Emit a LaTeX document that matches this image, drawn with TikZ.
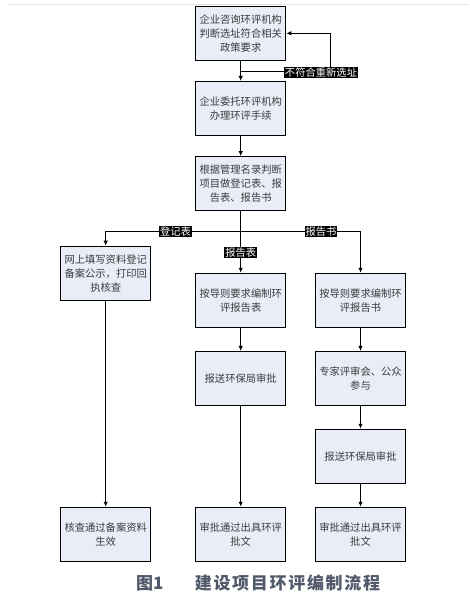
\documentclass[tikz,border=0pt]{standalone}
\usepackage{fontspec}
\setmainfont{Noto Sans CJK SC}
\usetikzlibrary{arrows.meta}
\definecolor{boxfill}{RGB}{232,237,247}
\definecolor{boxtext}{RGB}{60,60,60}
\definecolor{captext}{RGB}{80,88,105}
\tikzset{
  stepbox/.style={draw=black, line width=1.1pt, fill=boxfill, text=boxtext,
    minimum width=90pt, minimum height=54pt, inner sep=1pt, align=center,
    font=\fontsize{10.3}{14}\selectfont},
  tag/.style={fill=black, text=white, inner sep=1pt, font=\fontsize{10.3}{12}\selectfont},
  conn/.style={draw=black, line width=1.1pt},
  arr/.style={conn, -{Latex[length=5pt,width=4.5pt]}}
}
\begin{document}
\begin{tikzpicture}[x=1pt,y=-1pt]
\useasboundingbox (0,0) rectangle (469,601);
\fill[white] (0,0) rectangle (469,601);
\draw[black!10, line width=1pt] (8,4.5) -- (468,4.5);

\node[stepbox] (b1) at (240.7,33.3) {企业咨询环评机构\\判断选址符合相关\\政策要求};
\node[stepbox] (b2) at (240.7,108.5) {企业委托环评机构\\办理环评手续};
\node[stepbox] (b3) at (240.7,183.7) {根据管理名录判断\\项目做登记表、报\\告表、报告书};
\node[stepbox] (l1) at (105.7,273.3) {网上填写资料登记\\备案公示，打印回\\执核查};
\node[stepbox] (m1) at (240.7,300.3) {按导则要求编制环\\评报告表};
\node[stepbox] (r1) at (360.5,300.3) {按导则要求编制环\\评报告书};
\node[stepbox] (m2) at (240.7,378.5) {报送环保局审批};
\node[stepbox] (r2) at (360.5,378.5) {专家评审会、公众\\参与};
\node[stepbox] (r3) at (360.5,456.3) {报送环保局审批};
\node[stepbox] (l2) at (105.7,534.3) {核查通过备案资料\\生效};
\node[stepbox] (m3) at (240.7,534.3) {审批通过出具环评\\批文};
\node[stepbox] (r4) at (360.5,534.3) {审批通过出具环评\\批文};

% main chain
\draw[arr] (b1) -- (b2);
\draw[arr] (b2) -- (b3);

% feedback loop
\coordinate (f1) at (240.7,71.7);
\coordinate (f2) at (330.3,71.7);
\coordinate (f3) at (330.3,33.3);
\draw[arr] (f1) -- (f2) -- (f3) -- (b1.east |- f3);
\node[tag] (t0) at (321,72.5) {不符合重新选址};

% branching
\coordinate (j) at (240.7,231.7);
\draw[conn] (b3.south) -- (j);
\draw[arr] (j) -| (l1.north);
\draw[arr] (j) -| (r1.north);
\draw[arr] (j) -- (m1.north);
\node[tag] (t1) at (175.5,231.7) {登记表};
\node[tag] (t2) at (321,231.7) {报告书};
\node[tag] (t3) at (240.7,252.3) {报告表};

% columns
\draw[arr] (l1) -- (l2);
\draw[arr] (m1) -- (m2);
\draw[arr] (m2) -- (m3);
\draw[arr] (r1) -- (r2);
\draw[arr] (r2) -- (r3);
\draw[arr] (r3) -- (r4);

% caption
\node[text=captext, font=\fontsize{17}{20}\selectfont\bfseries] (c1) at (149.8,583) {图1};
\node[text=captext, font=\fontsize{17}{20}\selectfont\bfseries\addfontfeatures{LetterSpace=10}] (c2) at (287.5,583) {建设项目环评编制流程};
\end{tikzpicture}
\end{document}
